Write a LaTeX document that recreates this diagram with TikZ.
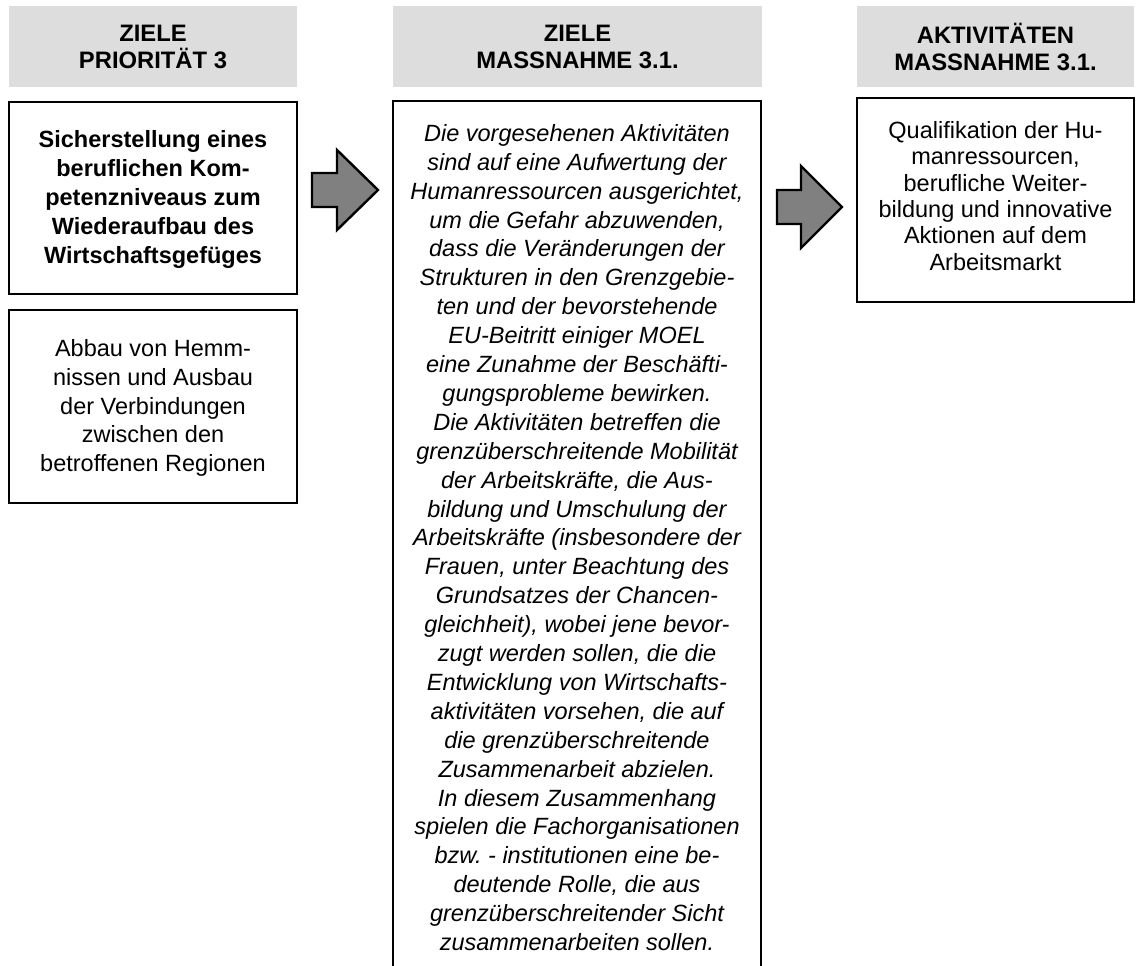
\documentclass[tikz,border=0pt]{standalone}
\usepackage{fontspec}
\setmainfont{Liberation Sans}
\frenchspacing
\definecolor{hdrgray}{HTML}{DDDDDD}
\definecolor{arrgray}{HTML}{808080}
\begin{document}
\begin{tikzpicture}[x=0.5pt,y=-0.5pt,
  hdr/.style={fill=hdrgray, draw=none, inner sep=0pt},
  boxstyle/.style={draw=black, line width=1pt, fill=white, inner sep=0pt},
  txt/.style={align=center, inner sep=0pt, font=\fontsize{11.75pt}{14.45pt}\selectfont},
  hdrtxt/.style={align=center, inner sep=0pt, font=\fontsize{11.9pt}{13.9pt}\selectfont\bfseries},
  arrowshape/.style={draw=black, fill=arrgray, line width=1.2pt, line join=miter}
]
\useasboundingbox (0,0) rectangle (1136,965);

% headers
\node[hdr, minimum width=144pt, minimum height=40.5pt] (h1) at (153,46.5) {};
\node[hdr, minimum width=184.5pt, minimum height=40.5pt] (h2) at (577.5,46.5) {};
\node[hdr, minimum width=138.5pt, minimum height=40.5pt] (h3) at (995.5,46.5) {};
\node[hdrtxt] (h1t) at (153,47) {ZIELE\\PRIORITÄT 3};
\node[hdrtxt] (h2t) at (577.5,47) {ZIELE\\MASSNAHME 3.1.};
\node[hdrtxt] (h3t) at (995.5,47) {AKTIVITÄTEN\\MASSNAHME 3.1.};

% left boxes
\node[boxstyle, minimum width=144pt, minimum height=96pt] (b1) at (153,198) {};
\node[txt, font=\fontsize{11.75pt}{14.4pt}\selectfont\bfseries] (b1t) at (153,199.5)
  {Sicherstellung eines\\beruflichen Kom-\\petenzniveaus zum\\Wiederaufbau des\\Wirtschaftsgefüges};
\node[boxstyle, minimum width=144pt, minimum height=96.5pt] (b2) at (153,406.5) {};
\node[txt] (b2t) at (153,408)
  {Abbau von Hemm-\\nissen und Ausbau\\der Verbindungen\\zwischen den\\betroffenen Regionen};

% middle box (open at the bottom)
\coordinate (mbl) at (393,966);
\coordinate (mtl) at (393,101);
\coordinate (mtr) at (761,101);
\coordinate (mbr) at (761,966);
\draw[line width=1pt] (mbl) -- (mtl) -- (mtr) -- (mbr);
\node[txt, font=\fontsize{11.75pt}{14.45pt}\selectfont\itshape] (mt) at (577,537.5)
  {Die vorgesehenen Aktivitäten\\
   sind auf eine Aufwertung der\\
   Humanressourcen ausgerichtet,\\
   um die Gefahr abzuwenden,\\
   dass die Veränderungen der\\
   Strukturen in den Grenzgebie-\\
   ten und der bevorstehende\\
   EU-Beitritt einiger MOEL\\
   eine Zunahme der Beschäfti-\\
   gungsprobleme bewirken.\\
   Die Aktivitäten betreffen die\\
   grenzüberschreitende Mobilität\\
   der Arbeitskräfte, die Aus-\\
   bildung und Umschulung der\\
   Arbeitskräfte (insbesondere der\\
   Frauen, unter Beachtung des\\
   Grundsatzes der Chancen-\\
   gleichheit), wobei jene bevor-\\
   zugt werden sollen, die die\\
   Entwicklung von Wirtschafts-\\
   aktivitäten vorsehen, die auf\\
   die grenzüberschreitende\\
   Zusammenarbeit abzielen.\\
   In diesem Zusammenhang\\
   spielen die Fachorganisationen\\
   bzw. - institutionen eine be-\\
   deutende Rolle, die aus\\
   grenzüberschreitender Sicht\\
   zusammenarbeiten sollen.};

% right box
\node[boxstyle, minimum width=138.5pt, minimum height=102pt] (b3) at (995.5,200) {};
\node[txt, font=\fontsize{11.75pt}{13.15pt}\selectfont] (b3t) at (995.5,196)
  {Qualifikation der Hu-\\manressourcen,\\berufliche Weiter-\\bildung und innovative\\Aktionen auf dem\\Arbeitsmarkt};

% block arrows
\draw[arrowshape] (312,173) -- (337,173) -- (337,150) -- (378,190) -- (337,230)
  -- (337,207) -- (312,207) -- cycle;
\draw[arrowshape] (777,190) -- (801,190) -- (801,166) -- (842,207) -- (801,248)
  -- (801,224) -- (777,224) -- cycle;
\end{tikzpicture}
\end{document}
